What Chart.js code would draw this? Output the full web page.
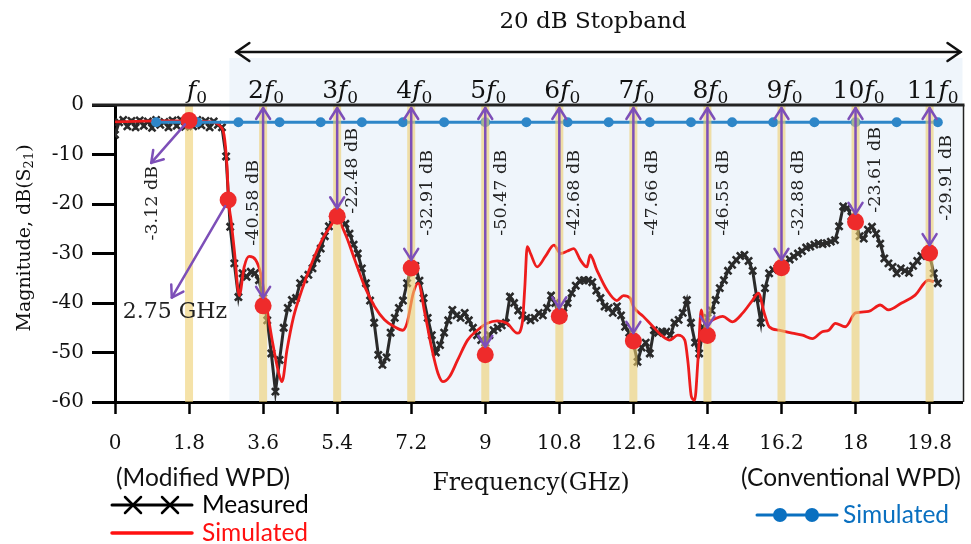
<!DOCTYPE html>
<html>
<head>
<meta charset="utf-8">
<title>S21 magnitude</title>
<script src="https://cdn.jsdelivr.net/npm/chart.js@4.4.0/dist/chart.umd.min.js"></script>
<style>
  html, body { margin: 0; padding: 0; background: #fff; }
  #wrap { width: 971px; height: 544px; }
</style>
</head>
<body>
<div id="wrap"><canvas id="chart" width="971" height="544"></canvas></div>
<script>
// measured S21 (dB), one sample every 0.1 GHz from 0 to 20 GHz
const measMag = [
  -6.0, -3.5, -3.0, -4.3, -3.2, -4.5, -3.1, -4.2, -3.3, -4.6,
  -3.0, -4.0, -3.4, -4.5, -3.1, -4.2, -3.0, -4.4, -3.3, -4.3,
  -3.0, -4.1, -3.2, -4.5, -3.3, -4.0, -4.5, -10.4, -24.6, -32.0,
  -38.8, -34.0, -34.7, -33.7, -34.0, -35.4, -39.0, -43.5, -50.2, -57.9,
  -51.5, -45.0, -41.0, -39.4, -39.0, -36.0, -35.2, -34.3, -33.0, -31.0,
  -29.0, -26.5, -24.5, -23.0, -22.5, -23.2, -24.0, -26.0, -28.2, -30.0,
  -33.0, -36.0, -39.5, -44.0, -50.5, -52.5, -51.0, -46.0, -43.0, -41.0,
  -39.5, -36.0, -33.0, -32.5, -35.5, -39.0, -43.0, -46.5, -50.0, -48.5,
  -46.0, -43.5, -41.4, -42.5, -43.0, -42.0, -43.5, -45.0, -46.5, -47.5,
  -48.0, -46.5, -45.5, -45.0, -44.5, -44.0, -38.7, -40.0, -41.5, -42.5,
  -43.0, -43.5, -43.0, -42.0, -42.5, -41.0, -38.5, -40.0, -43.0, -42.0,
  -40.0, -38.0, -36.5, -35.5, -35.4, -35.4, -35.8, -37.5, -39.0, -40.7,
  -41.0, -42.0, -40.7, -42.5, -44.8, -46.0, -48.1, -51.9, -49.0, -48.0,
  -50.2, -45.5, -46.0, -45.8, -45.8, -46.5, -44.0, -43.4, -42.0, -39.4,
  -44.0, -48.0, -50.2, -45.0, -43.0, -41.5, -39.4, -37.0, -35.4, -33.5,
  -32.3, -31.3, -30.5, -30.3, -31.5, -33.5, -39.0, -44.0, -37.0, -34.0,
  -33.3, -33.0, -32.9, -31.8, -31.2, -30.6, -30.0, -29.5, -28.8, -28.6,
  -28.2, -27.9, -28.1, -27.9, -27.6, -27.3, -24.5, -20.5, -20.8, -22.5,
  -23.5, -26.5, -27.0, -25.2, -24.6, -26.0, -28.0, -31.0, -32.0, -32.7,
  -34.0, -33.0, -33.5, -33.9, -32.5, -31.5, -30.5, -30.0, -30.3, -34.0,
  -36.0
];
const measFreq = measMag.map((v, i) => i / 10);

// simulated S21 of the modified divider
const simFreq = [0, 0.5, 1.0, 1.5, 2.0, 2.4, 2.55, 2.65, 2.72, 2.76, 2.82, 2.9, 3.02, 3.14, 3.26, 3.42, 3.54, 3.66, 3.82, 3.98,
  4.06, 4.18, 4.34, 4.54, 4.78, 5.03, 5.23, 5.39, 5.59, 5.83, 6.07, 6.31, 6.55, 6.79, 6.99, 7.1, 7.25, 7.37, 7.53, 7.69,
  7.85, 7.97, 8.13, 8.33, 8.57, 8.81, 9.05, 9.29, 9.53, 9.78, 9.9, 9.96, 10.02, 10.1, 10.26, 10.46, 10.67, 10.83, 11.0, 11.15,
  11.31, 11.47, 11.55, 11.71, 11.96, 12.2, 12.36, 12.52, 12.6, 12.84, 13.08, 13.32, 13.48, 13.68, 13.85, 13.93, 14.01, 14.09, 14.17, 14.25,
  14.33, 14.53, 14.77, 15.01, 15.26, 15.5, 15.64, 15.78, 15.9, 16.14, 16.46, 16.71, 16.95, 17.19, 17.35, 17.51, 17.75, 18.0, 18.32, 18.6,
  18.8, 19.12, 19.45, 19.77, 19.9];
const simMag = [-3.4, -3.3, -3.2, -3.2, -3.3, -3.5, -4.2, -6.0, -12.0, -19.2, -23.2, -29.3, -38.5, -32.7, -30.6, -31.3, -34.0, -39.4, -47.5, -54.2,
  -55.9, -49.5, -42.8, -37.4, -32.0, -27.3, -24.6, -23.0, -25.9, -31.3, -36.7, -40.7, -43.4, -44.8, -45.5, -44.0, -38.0, -36.0, -42.0, -48.8,
  -54.2, -55.9, -54.9, -51.5, -47.5, -45.5, -44.1, -43.6, -44.1, -46.1, -44.0, -37.0, -28.6, -30.0, -32.7, -30.6, -28.3, -30.0, -29.5, -29.0,
  -31.3, -32.7, -30.3, -33.3, -37.4, -39.5, -38.5, -39.0, -40.7, -42.7, -44.8, -46.8, -47.5, -46.5, -47.5, -52.2, -58.9, -59.6, -51.5, -41.4,
  -44.1, -43.4, -42.7, -43.8, -42.0, -39.4, -38.0, -42.0, -44.8, -45.5, -46.1, -46.5, -47.2, -45.8, -45.5, -44.1, -44.8, -42.0, -41.7, -40.4,
  -41.4, -40.0, -38.4, -35.4, -35.7];

// simulated S21 of the conventional divider
const convFreq = [1, 2, 3, 4, 5, 6, 7, 8, 9, 10, 11, 12, 13, 14, 15, 16, 17, 18, 19, 20];
const convMag = [-3.5, -3.5, -3.5, -3.5, -3.5, -3.5, -3.5, -3.5, -3.5, -3.5, -3.5, -3.5, -3.5, -3.5, -3.5, -3.5, -3.5, -3.5, -3.5, -3.5];

// fundamental and harmonics
const harmOrder = [1, 2, 3, 4, 5, 6, 7, 8, 9, 10, 11];
const harmFreq = [1.8, 3.6, 5.4, 7.2, 9, 10.8, 12.6, 14.4, 16.2, 18, 19.8];
const harmMag = [-3.12, -40.58, -22.48, -32.91, -50.47, -42.68, -47.66, -46.55, -32.88, -23.61, -29.91];

// 20 dB cut-off point
const cutFreq = [2.75];
const cutMag = [-19.2];

const xTicks = [0, 1.8, 3.6, 5.4, 7.2, 9, 10.8, 12.6, 14.4, 16.2, 18, 19.8];
const yTicks = [0, -10, -20, -30, -40, -50, -60];

const SERIF = '"DejaVu Serif", serif';
const SANS = 'Lato, "Open Sans", sans-serif';
const PURPLE = '#7d4fb8';

// top offsets (px below the plot top) and x shift of the rotated dB labels
const lblTop = [0, 55, 23, 45, 45, 45, 45, 45, 45, 22, 30];
const lblDx = [0, -10, 15, 16, 16, 15, 19, 16, 17, 20, 17];

function rich(ctx, parts, x, y, align) {
  let w = 0;
  parts.forEach(p => { ctx.font = p[1]; w += ctx.measureText(p[0]).width; });
  let cx = align === 'center' ? x - w / 2 : x;
  parts.forEach(p => {
    ctx.font = p[1];
    ctx.textAlign = 'left';
    ctx.fillText(p[0], cx, y + (p[2] || 0));
    cx += ctx.measureText(p[0]).width;
  });
}

function head(ctx, x, y, ang, len, half) {
  // open chevron pointing along ang
  const bx = x - Math.cos(ang) * len, by = y - Math.sin(ang) * len;
  const nx = -Math.sin(ang) * half, ny = Math.cos(ang) * half;
  ctx.beginPath();
  ctx.moveTo(bx + nx, by + ny);
  ctx.lineTo(x, y);
  ctx.lineTo(bx - nx, by - ny);
  ctx.stroke();
}

function arrow(ctx, x1, y1, x2, y2, both, len, half) {
  ctx.beginPath();
  ctx.moveTo(x1, y1);
  ctx.lineTo(x2, y2);
  ctx.stroke();
  const ang = Math.atan2(y2 - y1, x2 - x1);
  head(ctx, x2, y2, ang, len, half);
  if (both) head(ctx, x1, y1, ang + Math.PI, len, half);
}

const decor = {
  id: 'decor',
  beforeDraw(chart) {
    const { ctx, chartArea: a, scales: { x } } = chart;
    ctx.save();
    ctx.fillStyle = '#fff';
    ctx.fillRect(0, 0, chart.width, chart.height);
    // stopband shading
    const sx = x.getPixelForValue(2.78);
    ctx.fillStyle = '#eff5fb';
    ctx.fillRect(sx, 58, a.right - sx, a.bottom - 58);
    ctx.restore();
  },
  afterDatasetsDraw(chart) {
    const { ctx, chartArea: a, scales: { x, y } } = chart;
    ctx.save();
    ctx.strokeStyle = PURPLE;
    ctx.lineWidth = 2.5;
    ctx.lineCap = 'round';
    ctx.lineJoin = 'round';
    // double arrows from 0 dB down to each harmonic level
    for (let i = 1; i < harmFreq.length; i++) {
      const px = x.getPixelForValue(harmFreq[i]);
      arrow(ctx, px, a.top + 3, px, y.getPixelForValue(harmMag[i]) - 8, true, 11, 7);
    }
    // pointers to the pass-band loss and the cut-off frequency
    arrow(ctx, x.getPixelForValue(harmFreq[0]) - 4, y.getPixelForValue(harmMag[0]) + 4,
      x.getPixelForValue(0.88), y.getPixelForValue(-11.7), false, 11, 7);
    arrow(ctx, x.getPixelForValue(cutFreq[0]) - 3, y.getPixelForValue(cutMag[0]) + 6,
      x.getPixelForValue(1.38), y.getPixelForValue(-38.9), false, 11, 7);

    ctx.fillStyle = '#222';
    ctx.font = '17.5px ' + SERIF;
    ctx.textBaseline = 'middle';
    ctx.textAlign = 'right';
    for (let i = 1; i < harmFreq.length; i++) {
      ctx.save();
      ctx.translate(x.getPixelForValue(harmFreq[i]) + lblDx[i], a.top + lblTop[i]);
      ctx.rotate(-Math.PI / 2);
      ctx.fillText(harmMag[i].toFixed(2) + ' dB', 0, 0);
      ctx.restore();
    }
    ctx.save();
    ctx.translate(x.getPixelForValue(0.92), 166);
    ctx.rotate(-Math.PI / 2);
    ctx.fillText(harmMag[0].toFixed(2) + ' dB', 0, 0);
    ctx.restore();
    ctx.textAlign = 'left';
    ctx.font = '22px ' + SERIF;
    ctx.fillText(cutFreq[0] + ' GHz', x.getPixelForValue(0.19), 312);
    ctx.restore();
  },
  afterDraw(chart) {
    const { ctx, chartArea: a, scales: { x } } = chart;
    ctx.save();
    // frame: top line and right edge
    ctx.strokeStyle = '#222';
    ctx.lineWidth = 3;
    ctx.beginPath();
    ctx.moveTo(a.left - 23, a.top);
    ctx.lineTo(a.right + 2, a.top);
    ctx.stroke();
    ctx.lineWidth = 1.5;
    ctx.beginPath();
    ctx.moveTo(a.right + 1, a.top);
    ctx.lineTo(a.right + 1, a.bottom);
    ctx.stroke();

    // stopband span arrow
    ctx.strokeStyle = '#111';
    ctx.lineWidth = 2.5;
    ctx.lineCap = 'round';
    arrow(ctx, x.getPixelForValue(2.95), 52, a.right - 2, 52, true, 13, 9);
    ctx.fillStyle = '#111';
    ctx.textBaseline = 'middle';
    ctx.textAlign = 'center';
    ctx.font = '23px ' + SERIF;
    ctx.fillText('20 dB Stopband', 593, 22);

    // harmonic labels above the plot
    ctx.textBaseline = 'alphabetic';
    harmFreq.forEach((f, i) => {
      const parts = [];
      if (harmOrder[i] > 1) parts.push([String(harmOrder[i]), '25px ' + SERIF]);
      parts.push(['f', 'italic 25px ' + SERIF]);
      parts.push(['0', '17px ' + SERIF, 5]);
      rich(ctx, parts, x.getPixelForValue(f) + (harmOrder[i] > 1 ? 3 : 8), 98, 'center');
    });

    // axis titles
    ctx.fillStyle = '#111';
    ctx.textBaseline = 'middle';
    ctx.save();
    ctx.translate(25, 238);
    ctx.rotate(-Math.PI / 2);
    rich(ctx, [['Magnitude, dB(S', '19px ' + SERIF], ['21', '13px ' + SERIF, 5], [')', '19px ' + SERIF]], 0, 0, 'center');
    ctx.restore();
    ctx.textAlign = 'center';
    ctx.font = '23.5px ' + SERIF;
    ctx.fillText('Frequency(GHz)', 531, 484);

    // legend
    ctx.font = '24.5px ' + SANS;
    ctx.textAlign = 'left';
    ctx.fillStyle = '#111';
    ctx.fillText('(Modified WPD)', 116, 478);
    ctx.fillText('(Conventional WPD)', 741, 478);

    ctx.strokeStyle = '#000';
    ctx.lineWidth = 3;
    ctx.beginPath(); ctx.moveTo(112, 505); ctx.lineTo(192, 505); ctx.stroke();
    ctx.lineWidth = 2.5;
    [133, 170].forEach(cx => {
      ctx.beginPath();
      ctx.moveTo(cx - 8, 497); ctx.lineTo(cx + 8, 513);
      ctx.moveTo(cx - 8, 513); ctx.lineTo(cx + 8, 497);
      ctx.stroke();
    });
    ctx.fillStyle = '#000';
    ctx.fillText('Measured', 202, 505);

    ctx.strokeStyle = '#ff1010';
    ctx.lineWidth = 3.5;
    ctx.beginPath(); ctx.moveTo(112, 533); ctx.lineTo(192, 533); ctx.stroke();
    ctx.fillStyle = '#ff1010';
    ctx.fillText('Simulated', 202, 533);

    ctx.strokeStyle = '#0a70c0';
    ctx.fillStyle = '#0a70c0';
    ctx.lineWidth = 3;
    ctx.beginPath(); ctx.moveTo(757, 515); ctx.lineTo(837, 515); ctx.stroke();
    [780, 812].forEach(cx => {
      ctx.beginPath(); ctx.arc(cx, 515, 7, 0, Math.PI * 2); ctx.fill();
    });
    ctx.fillText('Simulated', 843, 515);
    ctx.restore();
  }
};

const pts = (xs, ys) => xs.map((v, i) => ({ x: v, y: ys[i] }));
const barPts = harmFreq.flatMap(f => [{ x: f, y: 0 }, { x: f, y: -60 }, { x: f, y: null }]);

new Chart(document.getElementById('chart'), {
  type: 'line',
  data: {
    datasets: [
      {
        label: 'Measured',
        data: pts(measFreq, measMag),
        borderColor: '#2a2a2a',
        borderWidth: 3,
        pointStyle: 'crossRot',
        pointRadius: 5,
        pointBorderWidth: 2.6,
        pointBorderColor: '#2a2a2a',
        order: 6
      },
      {
        label: 'Simulated',
        data: pts(simFreq, simMag),
        borderColor: '#ee1c1c',
        borderWidth: 2.8,
        pointRadius: 0,
        cubicInterpolationMode: 'monotone',
        order: 5
      },
      {
        label: 'Simulated (conventional)',
        data: pts(convFreq, convMag),
        borderColor: '#2e86c8',
        backgroundColor: '#2e86c8',
        borderWidth: 3,
        pointRadius: 5,
        pointBorderWidth: 0,
        order: 4
      },
      {
        label: 'harmonics',
        data: barPts,
        borderColor: 'rgba(238, 206, 110, 0.6)',
        borderWidth: 8,
        borderCapStyle: 'butt',
        pointRadius: 0,
        spanGaps: false,
        order: 3
      },
      {
        label: 'levels',
        data: pts(harmFreq.concat(cutFreq), harmMag.concat(cutMag)),
        showLine: false,
        pointRadius: 8.5,
        pointBorderWidth: 0,
        backgroundColor: '#ee2b2b',
        order: 2
      }
    ]
  },
  options: {
    responsive: false,
    devicePixelRatio: 1,
    animation: false,
    events: [],
    layout: { padding: { top: 105, right: 3, left: 0, bottom: 0 } },
    plugins: { legend: { display: false }, tooltip: { enabled: false } },
    scales: {
      x: {
        type: 'linear',
        min: 0,
        max: 20.6,
        afterFit: s => { s.height = 142; },
        afterBuildTicks: s => { s.ticks = xTicks.map(v => ({ value: v })); },
        border: { display: true, color: '#000', width: 3 },
        grid: { drawOnChartArea: false, drawTicks: true, tickLength: 12, tickWidth: 2.5, tickColor: '#000' },
        ticks: {
          color: '#111',
          font: { family: SERIF, size: 20 },
          padding: 18,
          maxRotation: 0,
          autoSkip: false,
          callback: v => String(Number(v.toFixed(1)))
        }
      },
      y: {
        min: -60,
        max: 0,
        afterFit: s => { s.width = 115; },
        afterBuildTicks: s => { s.ticks = yTicks.map(v => ({ value: v })); },
        border: { display: true, color: '#000', width: 3 },
        grid: { drawOnChartArea: false, drawTicks: true, tickLength: 23, tickWidth: 3, tickColor: '#000' },
        ticks: {
          color: '#111',
          font: { family: SERIF, size: 20 },
          padding: 8,
          autoSkip: false
        }
      }
    }
  },
  plugins: [decor]
});
</script>
</body>
</html>
